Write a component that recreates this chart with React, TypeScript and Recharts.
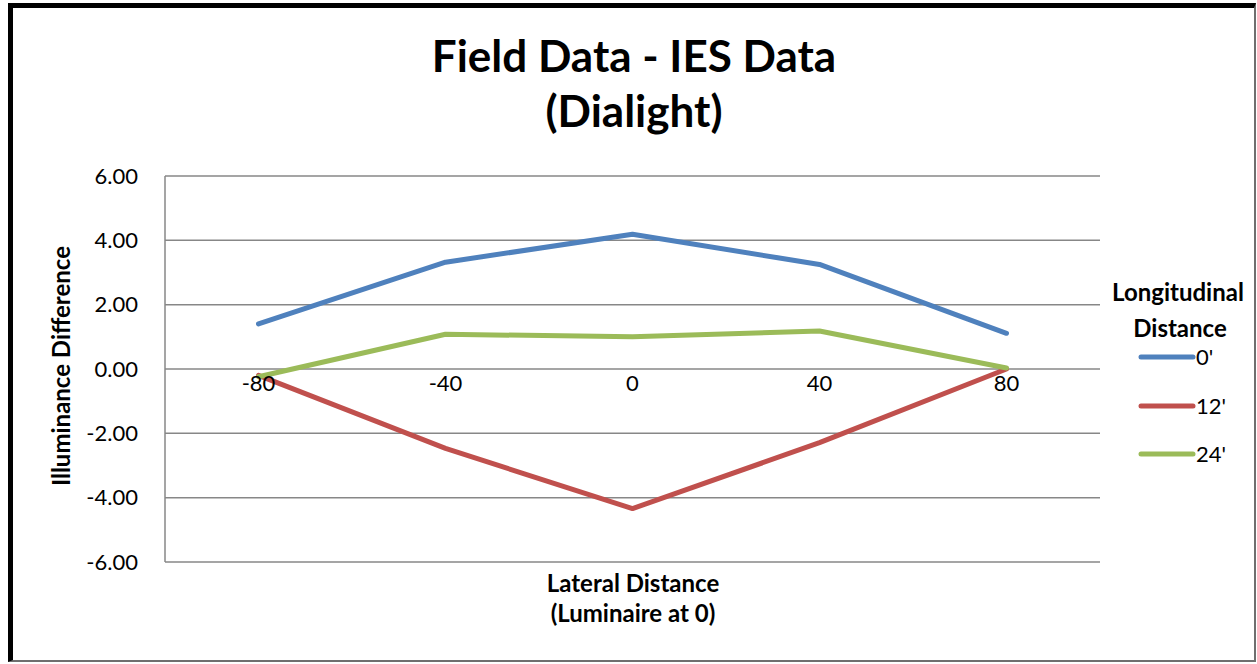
import React from 'react';
import { LineChart, Line, XAxis, YAxis, CartesianGrid } from 'recharts';

const categories = ['-80', '-40', '0', '40', '80'];
const series0 = [1.4, 3.32, 4.19, 3.25, 1.11];
const series12 = [-0.2, -2.47, -4.34, -2.29, 0.0];
const series24 = [-0.24, 1.08, 1.0, 1.18, 0.03];
const yTicks = [-6, -4, -2, 0, 2, 4, 6];
const seriesNames = ["0'", "12'", "24'"];
const seriesKeys = ['s0', 's12', 's24'];
const seriesColors = ['#4F81BD', '#C0504D', '#9BBB59'];

const data = categories.map((c, i) => ({
  x: c,
  s0: series0[i],
  s12: series12[i],
  s24: series24[i],
}));

const W = 1257;
const H = 664;
const FONT = 'Lato, "Open Sans", sans-serif';
const MARGIN = { top: 176, right: 157, left: 65, bottom: 72 };
const XAXIS_H = 30;
const PLOT_TOP = MARGIN.top;
const PLOT_BOTTOM = H - MARGIN.bottom - XAXIS_H;
const PLOT_W = W - MARGIN.left - 100 - MARGIN.right;
const BAND = PLOT_W / categories.length;
const Y_MIN = -6;
const Y_MAX = 6;
const ZERO_Y = PLOT_TOP + ((PLOT_BOTTOM - PLOT_TOP) * (Y_MAX - 0)) / (Y_MAX - Y_MIN);

const XTick = (props: any) => {
  const { x, payload } = props;
  return (
    <text x={x} y={ZERO_Y + 22} textAnchor="middle" fontSize={22} fontFamily={FONT} fill="#000">
      {payload.value}
    </text>
  );
};

const LegendBox = () => (
  <div style={{ position: 'absolute', left: 1100, top: 270, width: 156, height: 200, fontFamily: FONT, color: '#000' }}>
    <div style={{ position: 'absolute', left: 0, top: 9, width: 156, textAlign: 'center', fontWeight: 700, fontSize: 24, lineHeight: '26px' }}>
      Longitudinal
    </div>
    <div style={{ position: 'absolute', left: 0, top: 45, width: 160, textAlign: 'center', fontWeight: 700, fontSize: 24, lineHeight: '26px' }}>
      Distance
    </div>
    {seriesNames.map((n, i) => (
      <div key={n} style={{ position: 'absolute', left: 38, top: 87 + i * 48.5 - 13, height: 26, display: 'flex', alignItems: 'center' }}>
        <svg width={58} height={10} style={{ display: 'block' }}>
          <line x1={3} y1={5} x2={55} y2={5} stroke={seriesColors[i]} strokeWidth={5} strokeLinecap="round" />
        </svg>
        <span style={{ fontSize: 22, lineHeight: '26px' }}>{n}</span>
      </div>
    ))}
  </div>
);

export default function App() {
  return (
    <div style={{ position: 'absolute', left: 0, top: 0, width: W, height: H, background: '#fff', overflow: 'hidden' }}>
      <div style={{ position: 'absolute', left: 8, top: 3, width: 1256 - 8, height: 662 - 3, boxSizing: 'border-box', borderTop: '5px solid #000', borderLeft: '5px solid #000', borderRight: '2px solid #6f6f6f', borderBottom: '2px solid #6f6f6f' }} />
      <LineChart width={W} height={H} data={data} margin={MARGIN} style={{ position: 'absolute', left: 0, top: 0 }}>
        <CartesianGrid vertical={false} stroke="#878787" strokeWidth={1.5} />
        <XAxis
          dataKey="x"
          height={XAXIS_H}
          axisLine={false}
          tickLine={false}
          tick={<XTick />}
          interval={0}
          padding={{ left: BAND / 2, right: BAND / 2 }}
        />
        <YAxis
          width={100}
          domain={[Y_MIN, Y_MAX]}
          ticks={yTicks}
          interval={0}
          tickFormatter={(v: number) => v.toFixed(2)}
          axisLine={{ stroke: '#878787', strokeWidth: 1.5 }}
          tickLine={false}
          tickSize={0}
          tickMargin={27}
          tick={{ fontSize: 22, fontFamily: FONT, fill: '#000' }}
        />
        {seriesKeys.map((k, i) => (
          <Line
            key={k}
            dataKey={k}
            name={seriesNames[i]}
            type="linear"
            stroke={seriesColors[i]}
            strokeWidth={5}
            dot={false}
            activeDot={false}
            strokeLinecap="round"
            strokeLinejoin="round"
            isAnimationActive={false}
          />
        ))}
      </LineChart>
      <LegendBox />
      <svg width={W} height={H} style={{ position: 'absolute', left: 0, top: 0, pointerEvents: 'none' }}>
        <text x={634} y={72} textAnchor="middle" fontFamily={FONT} fontWeight={700} fontSize={44} fill="#000">
          Field Data - IES Data
        </text>
        <text x={634} y={127} textAnchor="middle" fontFamily={FONT} fontWeight={700} fontSize={44} fill="#000">
          (Dialight)
        </text>
        <text x={633} y={592} textAnchor="middle" fontFamily={FONT} fontWeight={700} fontSize={24} fill="#000">
          Lateral Distance
        </text>
        <text x={633} y={622} textAnchor="middle" fontFamily={FONT} fontWeight={700} fontSize={24} fill="#000">
          (Luminaire at 0)
        </text>
        <text x={0} y={0} transform="translate(70 366) rotate(-90)" textAnchor="middle" fontFamily={FONT} fontWeight={700} fontSize={24} fill="#000">
          Illuminance Difference
        </text>
      </svg>
    </div>
  );
}
